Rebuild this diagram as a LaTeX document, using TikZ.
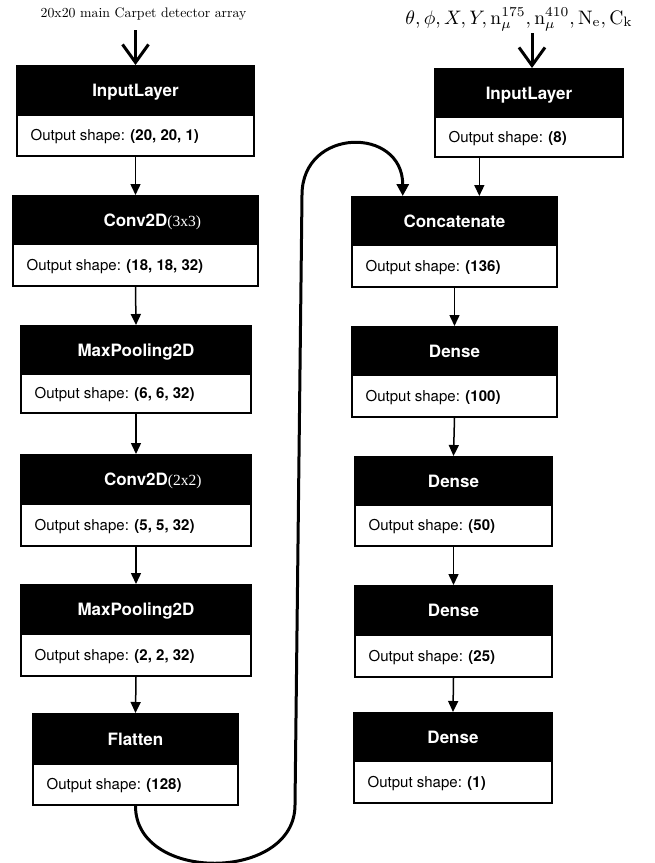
\documentclass[tikz,border=0pt]{standalone}
\usepackage{graphicx}
\usepackage{fontspec}
\newfontfamily\hv{TeX Gyre Heros}
\newfontfamily\tagserif{Liberation Serif}
\usetikzlibrary{arrows.meta,calc}
\tikzset{
 hdr/.style={draw=black, fill=black, line width=2pt, text=white, font=\hv\bfseries\fontsize{17}{20}\selectfont, inner sep=0pt, text height=12.2pt, text depth=0pt},
 bdy/.style={draw=black, fill=white, line width=2pt, inner sep=0pt},
 shp/.style={font=\hv\fontsize{15}{18}\selectfont, inner sep=0pt, anchor=west, text height=10.8pt, text depth=0pt},
 conn/.style={line width=1.5pt, -{Triangle[length=11pt,width=10pt]}},
 loopline/.style={line width=3pt, -{Triangle[length=12pt,width=12pt]}},
 feed/.style={line width=3pt, -{Straight Barb[length=18pt,width=26pt]}},
 toplab/.style={inner sep=0pt, anchor=base},
 mathlab/.style={inner sep=0pt, anchor=base}
}
\newcommand\nnlayer[8]{%
 \pgfmathsetmacro\lw{#3-#2}\pgfmathsetmacro\lx{(#2+#3)/2}%
 \pgfmathsetmacro\hh{#5-#4}\pgfmathsetmacro\hy{(#4+#5)/2}%
 \pgfmathsetmacro\bh{#6-#5}\pgfmathsetmacro\by{(#5+#6)/2}%
 \node[bdy, minimum width=\lw pt, minimum height=\bh pt] (#1b) at (\lx,\by) {};
 \node[hdr, minimum width=\lw pt, minimum height=\hh pt] (#1h) at (\lx,\hy) {#7};
 \node[shp] (#1t) at ([xshift=14.5pt]#1b.west) {Output shape: \textbf{#8}};
}
\newcommand\rmtag[1]{\rlap{\tagserif\mdseries\fontsize{15.5}{18}\selectfont#1}}
\begin{document}
\begin{tikzpicture}[x=1pt,y=-1pt]
\useasboundingbox (0,0) rectangle (655,863);
% left column
\nnlayer{inpa}{17}{254}{66}{115}{156}{InputLayer}{(20, 20, 1)}
\nnlayer{conva}{13}{258}{196}{244}{286}{Conv2D\rmtag{(3x3)}}{(18, 18, 32)}
\nnlayer{poola}{21}{251}{326}{374}{413}{MaxPooling2D}{(6, 6, 32)}
\nnlayer{convb}{21}{251}{455}{504}{546}{Conv2D\rmtag{(2x2)}}{(5, 5, 32)}
\nnlayer{poolb}{21}{251}{585}{634}{676}{MaxPooling2D}{(2, 2, 32)}
\nnlayer{flat}{33}{238}{714}{764}{805}{Flatten}{(128)}
% right column
\nnlayer{inpb}{435}{623}{69}{117}{157}{InputLayer}{(8)}
\nnlayer{concat}{352}{557}{197}{245}{287}{Concatenate}{(136)}
\nnlayer{densea}{352}{557}{327}{375}{417}{Dense}{(100)}
\nnlayer{denseb}{355}{552}{457}{505}{546}{Dense}{(50)}
\nnlayer{densec}{355}{552}{586}{635}{677}{Dense}{(25)}
\nnlayer{densed}{354}{552}{713}{761}{803}{Dense}{(1)}
% top labels
\node[toplab] (laba) at (143.5,17.5) {\scalebox{1.38}{20x20 main Carpet detector array}};
\node[mathlab] (labb) at (519,24) {\scalebox{1.95}{$\theta, \phi, X, Y, \mathrm{n}_{\mu}^{175}, \mathrm{n}_{\mu}^{410}, \mathrm{N}_{\mathrm{e}}, \mathrm{C}_{\mathrm{k}}$}};
\coordinate (fa) at (135.5,30);
\coordinate (fb) at (532,33);
\draw[feed] (fa) -- (fa |- inpah.north);
\draw[feed] (fb) -- (fb |- inpbh.north);
% left connectors
\draw[conn] (inpab.south) -- (convah.north);
\draw[conn] (convab.south) -- (poolah.north);
\draw[conn] (poolab.south) -- (convbh.north);
\draw[conn] (convbb.south) -- (poolbh.north);
\draw[conn] (poolbb.south) -- (flath.north);
% right connectors
\coordinate (cin) at ($(concath.north west)!0.62!(concath.north east)$);
\coordinate (cloop) at ($(concath.north west)!0.25!(concath.north east)$);
\draw[conn] (inpbb.south -| cin) -- (cin);
\draw[conn] (concatb.south) -- (denseah.north);
\draw[conn] (denseab.south) -- (densebh.north);
\draw[conn] (densebb.south) -- (densech.north);
\draw[conn] (densecb.south) -- (densedh.north);
% loop
\coordinate (lb) at (295,805);
\coordinate (lt) at (302,195);
\draw[loopline] (flatb.south) .. controls +(0,77) and +(0,77) .. (lb) -- (lt) .. controls +(0,-68) and +(0,-70) .. (cloop);
\end{tikzpicture}
\end{document}
